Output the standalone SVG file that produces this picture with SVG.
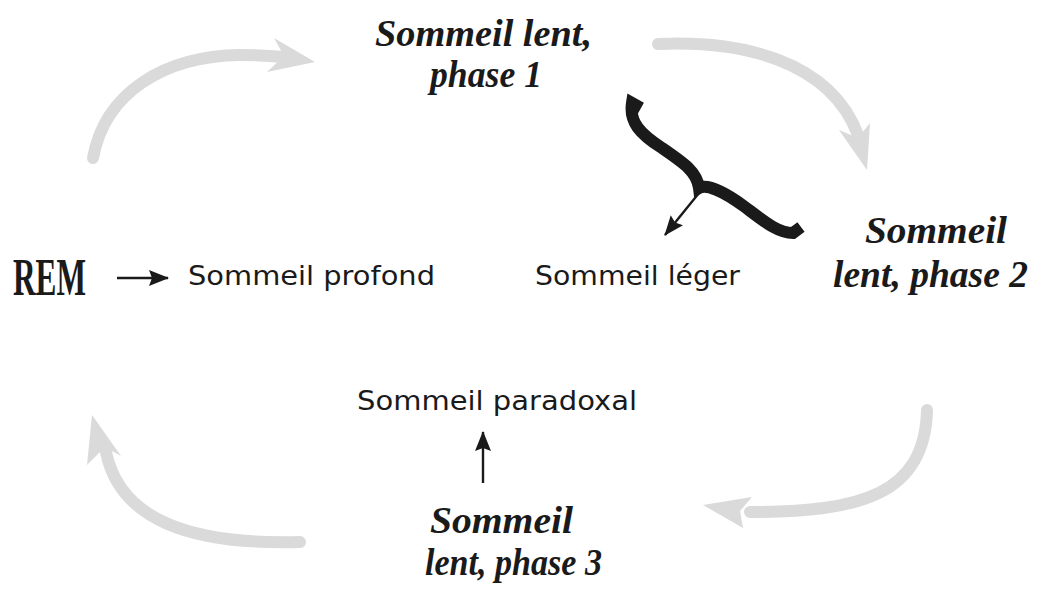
<svg xmlns="http://www.w3.org/2000/svg" width="1041" height="594" viewBox="0 0 1041 594">
<defs>
<style>
.script{font-family:"Liberation Serif","DejaVu Serif",serif;font-weight:bold;font-style:italic;font-size:38px;fill:#1a1a1a}
.rem{font-family:"Liberation Serif","DejaVu Serif",serif;font-weight:bold;font-size:52px;fill:#1a1a1a}
.sans{font-family:"DejaVu Sans","Liberation Sans",sans-serif;font-size:26px;fill:#1a1a1a}
.cycle{fill:none;stroke:#dadada;stroke-width:12;stroke-linecap:round}
.head{fill:#dadada}
.thin{fill:none;stroke:#1a1a1a;stroke-width:2.4}
</style>
<marker id="ah" viewBox="0 0 20 16" refX="19" refY="8" markerWidth="20" markerHeight="16" markerUnits="userSpaceOnUse" orient="auto">
<path d="M0,0 L20,8 L0,16 L3,8 Z" fill="#1a1a1a"/>
</marker>
</defs>
<rect width="1041" height="594" fill="#ffffff"/>

<g id="connectors">
<path class="cycle" d="M93,158 C105,92 165,56 240,55 Q265,55 284,57"/>
<polygon class="head" points="315,62 274,38 284,56 267,72"/>
<path class="cycle" d="M658,44 C740,40 830,60 858,135"/>
<polygon class="head" points="867,170 839,130 858,138 870,123"/>
<path class="cycle" d="M927,410 C925,495 860,512 750,512"/>
<polygon class="head" points="703,505 752,497 740,511 743,528"/>
<path class="cycle" d="M300,542 C190,545 120,520 106,452"/>
<polygon class="head" points="92,415 121,456 105,447 87,465"/>
<path class="thin" d="M117,278 L168,278" marker-end="url(#ah)"/>
<path class="thin" d="M483,483 L483,432" marker-end="url(#ah)"/>
<path class="thin" d="M699,193 L665,235" marker-end="url(#ah)"/>
</g>

<g id="brace">
<path d="M641,108 L632,103 C629,122 640,134 662,148 C684,163 697,172 699,188 C706,184 722,190 745,207 C765,222 778,233 793,233 L801,227" fill="none" stroke="#1a1a1a" stroke-width="12" stroke-linejoin="miter" stroke-miterlimit="6"/>
</g>

<g id="node-phase1">
<text class="script" x="375" y="46" textLength="217" lengthAdjust="spacingAndGlyphs">Sommeil lent,</text>
<text class="script" x="430" y="87" textLength="112" lengthAdjust="spacingAndGlyphs">phase 1</text>
</g>
<g id="node-phase2">
<text class="script" x="865" y="243" textLength="142" lengthAdjust="spacingAndGlyphs">Sommeil</text>
<text class="script" x="833" y="287" textLength="195" lengthAdjust="spacingAndGlyphs">lent, phase 2</text>
</g>
<g id="node-phase3">
<text class="script" x="430" y="533" textLength="143" lengthAdjust="spacingAndGlyphs">Sommeil</text>
<text class="script" x="425" y="575" textLength="177" lengthAdjust="spacingAndGlyphs">lent, phase 3</text>
</g>
<g id="node-rem">
<text class="rem" x="13" y="295" textLength="73" lengthAdjust="spacingAndGlyphs">REM</text>
</g>
<g id="node-profond">
<text class="sans" x="188" y="285" textLength="247" lengthAdjust="spacingAndGlyphs">Sommeil profond</text>
</g>
<g id="node-leger">
<text class="sans" x="535" y="285" textLength="205" lengthAdjust="spacingAndGlyphs">Sommeil léger</text>
</g>
<g id="node-paradoxal">
<text class="sans" x="357" y="410" textLength="280" lengthAdjust="spacingAndGlyphs">Sommeil paradoxal</text>
</g>
</svg>
